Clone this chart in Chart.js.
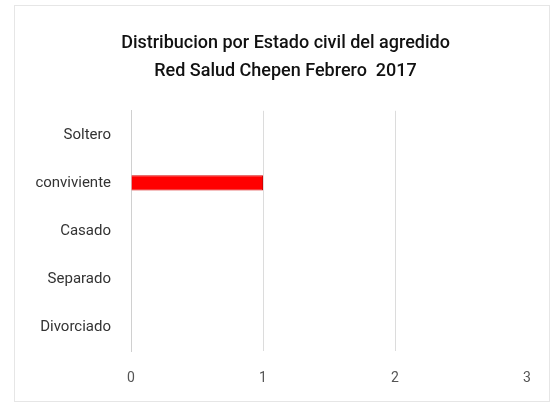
<!DOCTYPE html>
<html>
<head>
<meta charset="utf-8">
<script src="https://cdn.jsdelivr.net/npm/chart.js@4"></script>
<style>
  html, body { margin: 0; padding: 0; background: #fff; }
  #wrap { width: 553px; height: 404px; position: relative; }
</style>
</head>
<body>
<div id="wrap"><canvas id="chart"></canvas></div>
<script>
const categories = ['Soltero', 'conviviente', 'Casado', 'Separado', 'Divorciado'];
const counts = [0, 1, 0, 0, 0];
const xTicks = [0, 1, 2, 3];
const titleLines = ['Distribucion por Estado civil del agredido', 'Red Salud Chepen Febrero  2017'];

const fontFamily = "'Roboto', sans-serif";

// faint outer frame like the original image
const framePlugin = {
  id: 'frame',
  beforeDraw(chart) {
    const c = chart.ctx;
    c.save();
    c.fillStyle = '#fff';
    c.fillRect(0, 0, chart.width, chart.height);
    c.strokeStyle = '#e6e6e6';
    c.lineWidth = 1;
    c.strokeRect(14.5, 5.5, 535, 396);
    c.restore();
  },
  // title in the original sits a bit right of the padded box centre
  afterLayout(chart) {
    if (chart.titleBlock) chart.titleBlock.left += 24;
  }
};

const ctx = document.getElementById('chart').getContext('2d');
new Chart(ctx, {
  type: 'bar',
  data: {
    labels: categories,
    datasets: [{
      data: counts,
      backgroundColor: '#ff0000',
      borderColor: '#d40000',
      borderWidth: 1,
      barPercentage: 0.64,
      categoryPercentage: 0.5
    }]
  },
  options: {
    indexAxis: 'y',
    responsive: true,
    maintainAspectRatio: false,
    animation: false,
    layout: { padding: { left: 20, right: 26, top: 0, bottom: 10 } },
    plugins: {
      legend: { display: false },
      tooltip: { enabled: false },
      title: {
        display: true,
        text: titleLines,
        color: '#111',
        font: { family: fontFamily, size: 18, weight: '500', lineHeight: 1.55 },
        padding: { top: 30, bottom: 25 }
      }
    },
    scales: {
      x: {
        min: 0,
        max: 3,
        afterBuildTicks(axis) {
          axis.ticks = xTicks.map(v => ({ value: v }));
        },
        afterFit(axis) { axis.height = 43; },
        grid: {
          color: ctx => (ctx.tick && (ctx.tick.value === 0 || ctx.tick.value === 3)) ? 'rgba(0,0,0,0)' : '#dcdcdc',
          drawTicks: false
        },
        border: { display: false },
        ticks: {
          color: '#555',
          padding: 19,
          font: { family: fontFamily, size: 14 }
        }
      },
      y: {
        afterFit(axis) { axis.width = 111; },
        grid: { display: false, drawTicks: false },
        border: { display: true, color: '#d0d0d0' },
        ticks: {
          color: '#333',
          padding: 20,
          font: { family: fontFamily, size: 15 }
        }
      }
    }
  },
  plugins: [framePlugin]
});
</script>
</body>
</html>
